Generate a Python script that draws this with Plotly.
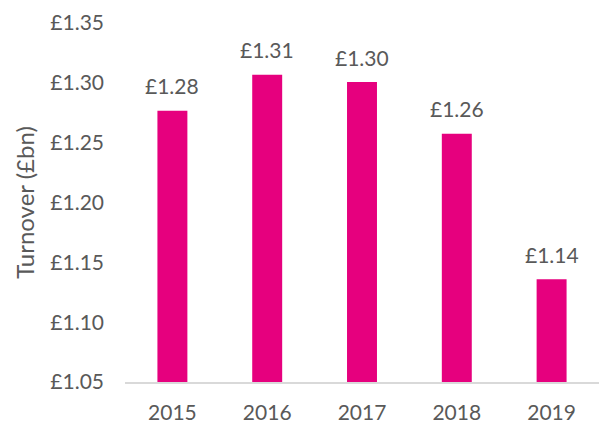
import plotly.graph_objects as go

years = ["2015", "2016", "2017", "2018", "2019"]
turnover = [1.2766, 1.3067, 1.3006, 1.2574, 1.1359]
labels = ["£%.2f" % v for v in turnover]

PINK = "#E6007E"
TEXT = "#595959"
FONT = "Lato"

fig = go.Figure()
fig.add_trace(go.Bar(x=years, y=turnover, marker=dict(color=PINK, line=dict(width=0)),
                     hoverinfo="skip"))

for i, (y, t) in enumerate(zip(turnover, labels)):
    fig.add_annotation(x=i, y=y, xref="x", yref="y", text=t, showarrow=False,
                       yanchor="middle", yshift=25,
                       font=dict(family=FONT, size=21, color=TEXT))

fig.update_layout(
    width=599, height=423,
    margin=dict(l=125, r=0, t=23, b=41, autoexpand=False),
    paper_bgcolor="white", plot_bgcolor="white",
    bargap=0.684, showlegend=False,
    font=dict(family=FONT, size=21, color=TEXT),
)
fig.update_xaxes(type="category", range=[-0.5, len(years) - 0.5], showline=True,
                 linecolor="#D9D9D9", linewidth=1.5, automargin=False,
                 showgrid=False, ticks="", ticklabelstandoff=11,
                 tickfont=dict(family=FONT, size=21, color=TEXT))
fig.update_yaxes(range=[1.05, 1.35], dtick=0.05, tick0=1.05, tickprefix="£", tickformat=".2f",
                 showgrid=False, showline=False, zeroline=False, ticks="",
                 ticklabelstandoff=20,
                 tickfont=dict(family=FONT, size=21, color=TEXT),
                 title=dict(text="Turnover (£bn)", standoff=8,
                            font=dict(family=FONT, size=24, color=TEXT)),
                 automargin=False)

fig.write_html("out.html", config={"displayModeBar": False},
               post_script="document.body.style.margin='0';")
